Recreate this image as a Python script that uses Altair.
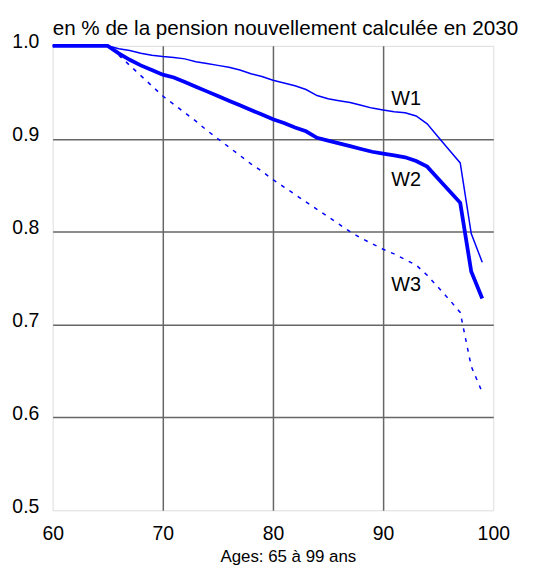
import altair as alt
import pandas as pd

ages = list(range(60, 100))

w1 = [1.0, 1.0, 1.0, 1.0, 1.0, 1.0,
      0.997, 0.995, 0.992, 0.990, 0.9885, 0.9875, 0.986, 0.983, 0.981,
      0.979, 0.977, 0.974, 0.970, 0.967, 0.963, 0.960, 0.957, 0.953,
      0.9465, 0.943, 0.941, 0.939, 0.936, 0.933, 0.931, 0.929, 0.928,
      0.9245, 0.916, 0.902, 0.888, 0.874, 0.798, 0.767]

w2 = [1.0, 1.0, 1.0, 1.0, 1.0, 1.0,
      0.992, 0.985, 0.979, 0.974, 0.969, 0.966, 0.961, 0.956, 0.951,
      0.946, 0.941, 0.936, 0.931, 0.926, 0.921, 0.917, 0.912, 0.908,
      0.901, 0.898, 0.895, 0.892, 0.889, 0.886, 0.884, 0.882, 0.880,
      0.876, 0.870, 0.857, 0.844, 0.831, 0.757, 0.728]

w3 = [1.0, 1.0, 1.0, 1.0, 1.0, 1.0,
      0.990, 0.979, 0.968, 0.957, 0.946, 0.937, 0.928, 0.919, 0.909,
      0.900, 0.891, 0.882, 0.873, 0.865, 0.856, 0.848, 0.840, 0.832,
      0.824, 0.816, 0.808, 0.800, 0.793, 0.787, 0.781, 0.776, 0.770,
      0.764, 0.753, 0.740, 0.727, 0.713, 0.655, 0.627]

label_names = ["W1", "W2", "W3"]
label_ages = [92.1, 92.1, 92.1]
label_values = [0.943, 0.856, 0.742]

x_ticks = [60, 70, 80, 90, 100]
y_ticks = [0.5, 0.6, 0.7, 0.8, 0.9, 1.0]

FONT = "Liberation Sans"
BLUE = "#0000FF"
GRID = "#666666"

df = pd.DataFrame({
    "age": ages * 3,
    "value": w1 + w2 + w3,
    "series": ["W1"] * len(ages) + ["W2"] * len(ages) + ["W3"] * len(ages),
})
labels = pd.DataFrame({"name": label_names, "age": label_ages, "value": label_values})

x_grid_color = {"condition": {"test": "datum.value <= 60 || datum.value >= 100",
                              "value": "transparent"}, "value": GRID}
y_grid_color = {"condition": {"test": "datum.value <= 0.5 || datum.value >= 1.0",
                              "value": "transparent"}, "value": GRID}

x_enc = alt.X(
    "age:Q",
    scale=alt.Scale(domain=[60, 100], nice=False, zero=False),
    axis=alt.Axis(
        values=x_ticks, title="Ages: 65 à 99 ans", grid=True, domain=False,
        ticks=False, tickSize=0, labelPadding=14, labelFontSize=19.5,
        labelFlush=False, labelOverlap=False,
        labelFont=FONT, labelColor="#000000", titleFont=FONT, titleFontSize=17,
        titleFontWeight="normal", titleColor="#000000", titleX=237, titleY=52,
        titleAlign="center", titleBaseline="alphabetic",
        gridColor=x_grid_color, gridWidth=1.5, gridOpacity=1,
    ),
)
y_enc = alt.Y(
    "value:Q",
    scale=alt.Scale(domain=[0.5, 1.0], nice=False, zero=False),
    axis=alt.Axis(
        values=y_ticks, format=".1f", title=None, grid=True, domain=False,
        ticks=False, tickSize=0, labelPadding=14, labelFontSize=19.5,
        labelFlush=False, labelOverlap=False,
        labelFont=FONT, labelColor="#000000", labelOffset=-4,
        labelBaseline="middle",
        gridColor=y_grid_color, gridWidth=1.5, gridOpacity=1,
    ),
)

base = alt.Chart(df)

l1 = base.transform_filter(alt.datum.series == "W1").mark_line(
    color=BLUE, strokeWidth=1.5).encode(x=x_enc, y=y_enc)
l3 = base.transform_filter(alt.datum.series == "W3").mark_line(
    color=BLUE, strokeWidth=1.5, strokeDash=[4, 6]).encode(x="age:Q", y="value:Q")
l2 = base.transform_filter(alt.datum.series == "W2").mark_line(
    color=BLUE, strokeWidth=3.8).encode(x="age:Q", y="value:Q")

txt = alt.Chart(labels).mark_text(
    font=FONT, fontSize=20, color="#000000", align="center", baseline="middle"
).encode(x="age:Q", y="value:Q", text="name:N")

chart = alt.layer(l1, l3, l2, txt).properties(
    width=444,
    height=468,
    autosize=alt.AutoSizeParams(type="none"),
    padding={"left": 45, "top": 36, "right": 35, "bottom": 57},
    title=alt.TitleParams(
        text="en % de la pension nouvellement calculée en 2030",
        anchor="start", frame="group", font=FONT, fontSize=20.8,
        fontWeight="normal", color="#000000", baseline="alphabetic",
        offset=0, dy=24,
    ),
).configure_view(
    stroke="#000000", strokeWidth=2
).configure(background="#FFFFFF")

chart.save("out.html", embed_options={"renderer": "svg", "actions": False})
